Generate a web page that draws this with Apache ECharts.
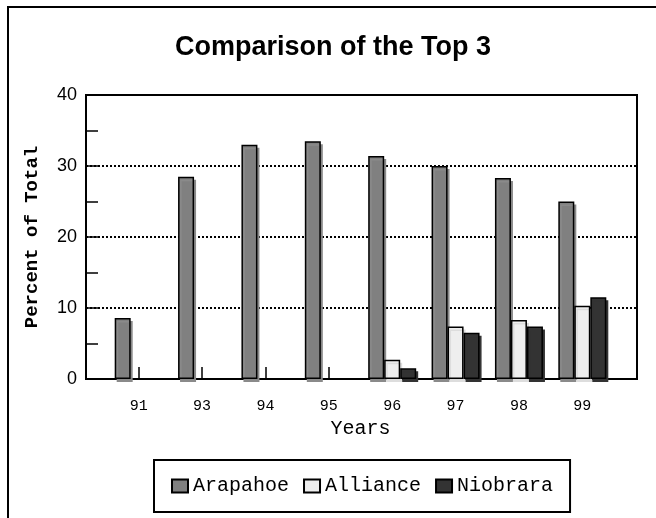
<!DOCTYPE html>
<html>
<head>
<meta charset="utf-8">
<script src="https://cdn.jsdelivr.net/npm/echarts@6/dist/echarts.min.js"></script>
<style>
html,body{margin:0;padding:0;background:#fff;}
#chart{width:656px;height:518px;}
</style>
</head>
<body>
<div id="chart"></div>
<script>
const years = ['91', '93', '94', '95', '96', '97', '98', '99'];
const arapahoe = [8.6, 28.5, 33.0, 33.5, 31.4, 30.0, 28.3, 25.0];
const alliance = [null, null, null, null, 2.7, 7.4, 8.3, 10.3];
const niobrara = [null, null, null, null, 1.5, 6.5, 7.4, 11.5];
const seriesNames = ['Arapahoe', 'Alliance', 'Niobrara'];
const yMin = 0, yMax = 40, yStep = 10;

const chart = echarts.init(document.getElementById('chart'), null, {renderer: 'canvas'});
const mono = 'Liberation Mono, Courier New, monospace';
const sans = 'Liberation Sans, Arial, sans-serif';

function barStyle(fill, shadow) {
  return {
    color: fill, borderColor: '#000', borderWidth: 1.5,
    shadowColor: shadow, shadowOffsetX: 2, shadowOffsetY: 3, shadowBlur: 0
  };
}

chart.setOption({
  animation: false,
  backgroundColor: '#fff',
  title: {
    text: 'Comparison of the Top 3',
    left: 328, top: 29, textAlign: 'center',
    textStyle: {fontFamily: sans, fontWeight: 'bold', fontSize: 27, color: '#000'}
  },
  graphic: [{
    type: 'rect', shape: {x: 8, y: 7, width: 700, height: 600},
    style: {fill: 'none', stroke: '#000', lineWidth: 2}, silent: true, z: 100
  }],
  legend: {
    data: seriesNames,
    left: 154, top: 460,
    padding: [16, 17],
    itemGap: 14, itemWidth: 16, itemHeight: 13,
    backgroundColor: '#fff', borderColor: '#000', borderWidth: 2,
    textStyle: {fontFamily: mono, fontSize: 20, color: '#000', padding: [0, 0, 0, 0]},
    icon: 'rect',
    itemStyle: {shadowBlur: 0, shadowOffsetX: 0, shadowOffsetY: 0, shadowColor: 'transparent'}
  },
  grid: [
    {left: 86, right: 19, top: 95, bottom: 139, show: true, borderColor: '#000', borderWidth: 2, backgroundColor: 'transparent', z: 3},
    {left: 107, width: 507, top: 95, bottom: 139}
  ],
  xAxis: [
    {gridIndex: 0, type: 'value', min: 0, max: 1, show: false},
    {
      gridIndex: 1, type: 'category', data: years,
      axisLine: {show: false},
      axisTick: {show: true, inside: true, alignWithLabel: true, length: 12, lineStyle: {color: '#000', width: 1.5}},
      axisLabel: {fontFamily: mono, fontSize: 15, color: '#000', margin: 20},
      name: 'Years', nameLocation: 'middle', nameGap: 37,
      nameTextStyle: {fontFamily: mono, fontSize: 20, color: '#000'}
    }
  ],
  yAxis: [
    {
      gridIndex: 0, type: 'value', min: yMin, max: yMax, interval: yStep,
      axisLine: {show: true, lineStyle: {color: '#000', width: 2}},
      axisTick: {show: true, inside: true, length: 12, lineStyle: {color: '#000', width: 1.5}},
      minorTick: {show: true, splitNumber: 2, length: 12, lineStyle: {color: '#000', width: 1.5}},
      splitLine: {show: true, lineStyle: {color: '#000', width: 2, type: [2, 2]}},
      axisLabel: {fontFamily: sans, fontSize: 18, color: '#000', margin: 9},
      name: 'Percent of Total', nameLocation: 'middle', nameGap: 44,
      nameTextStyle: {fontFamily: mono, fontWeight: 'bold', fontSize: 19, color: '#000'}
    },
    {gridIndex: 1, type: 'value', min: yMin, max: yMax, interval: yStep, show: false, splitLine: {show: false}}
  ],
  series: [
    {name: seriesNames[0], type: 'bar', xAxisIndex: 1, yAxisIndex: 1, data: arapahoe, barWidth: 16, barGap: '0%', itemStyle: barStyle('#808080', '#8a8a8a'), z: 4},
    {name: seriesNames[1], type: 'bar', xAxisIndex: 1, yAxisIndex: 1, data: alliance, barWidth: 16, barGap: '0%', itemStyle: barStyle('#eeeeee', '#dddddd'), z: 4},
    {name: seriesNames[2], type: 'bar', xAxisIndex: 1, yAxisIndex: 1, data: niobrara, barWidth: 16, barGap: '0%', itemStyle: barStyle('#333333', '#333333'), z: 4}
  ]
});
</script>
</body>
</html>
